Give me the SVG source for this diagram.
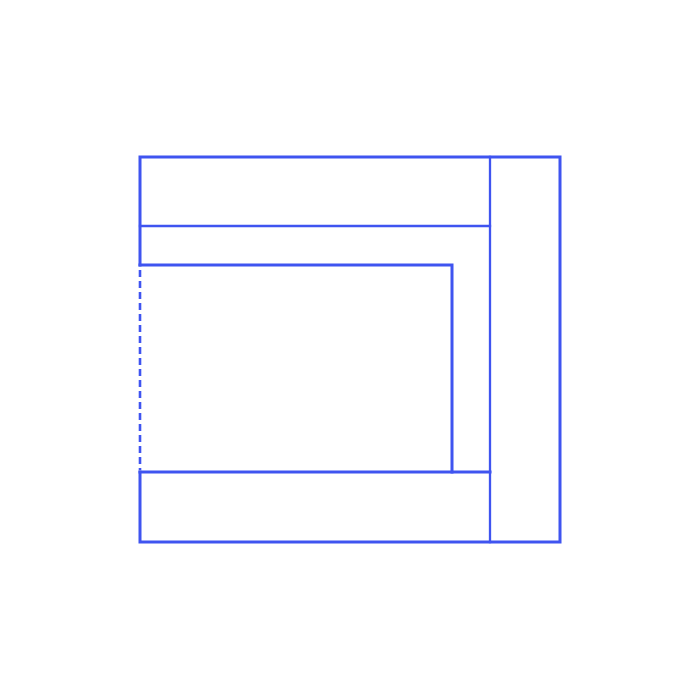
<svg xmlns="http://www.w3.org/2000/svg" width="700" height="700" viewBox="0 0 700 700">
<style>
.s{fill:none;stroke:#3f54f0;stroke-linecap:square}
.t{stroke-width:3}
.n{stroke-width:2.3}
.d{stroke-width:2.6;stroke-dasharray:7 4;stroke-linecap:butt}
</style>
<rect width="700" height="700" fill="#fff"/>
<g id="outer">
<path class="s t" d="M140,472 V542 H560 V157 H140 V265"/>
</g>
<g id="band-top">
<path class="s n" d="M140,226 H490"/>
</g>
<g id="column-right">
<path class="s n" d="M490,157 V542"/>
</g>
<g id="inner">
<path class="s t" d="M140,265 H452 V472"/>
<path class="s d" d="M140,270 V470"/>
</g>
<g id="band-bottom">
<path class="s t" d="M140,472 H490"/>
</g>
</svg>
